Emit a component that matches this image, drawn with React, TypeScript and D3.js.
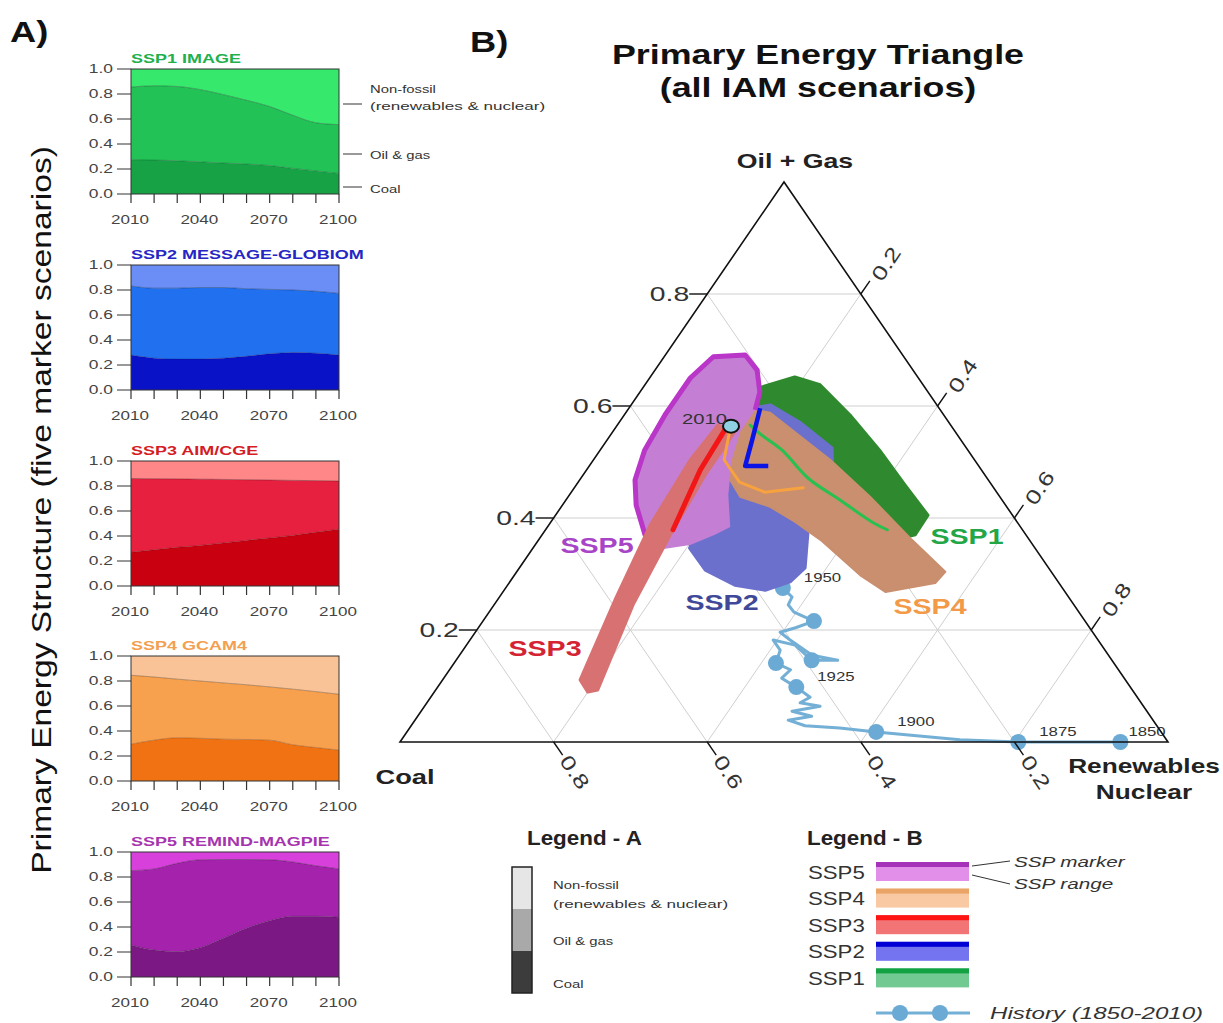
import React from 'react';
import * as d3 from 'd3';

// ---------- Panel A data ----------
const years = [2010, 2020, 2030, 2040, 2050, 2060, 2070, 2080, 2090, 2100];
const yTicksA = [0, 0.2, 0.4, 0.6, 0.8, 1.0];
const yearLabels = [2010, 2040, 2070, 2100];

const ssp1Coal = [0.275, 0.272, 0.266, 0.258, 0.248, 0.24, 0.228, 0.205, 0.185, 0.165];
const ssp1Fossil = [0.855, 0.866, 0.86, 0.835, 0.795, 0.75, 0.7, 0.63, 0.57, 0.555];
const ssp2Coal = [0.28, 0.255, 0.248, 0.248, 0.255, 0.27, 0.29, 0.3, 0.295, 0.28];
const ssp2Fossil = [0.832, 0.815, 0.815, 0.82, 0.82, 0.81, 0.805, 0.8, 0.79, 0.773];
const ssp3Coal = [0.27, 0.29, 0.31, 0.325, 0.345, 0.365, 0.385, 0.405, 0.43, 0.455];
const ssp3Fossil = [0.86, 0.858, 0.857, 0.855, 0.853, 0.85, 0.848, 0.845, 0.843, 0.84];
const ssp4Coal = [0.295, 0.327, 0.346, 0.342, 0.335, 0.332, 0.327, 0.29, 0.268, 0.247];
const ssp4Fossil = [0.846, 0.832, 0.815, 0.8, 0.785, 0.77, 0.753, 0.735, 0.715, 0.694];
const ssp5Coal = [0.257, 0.216, 0.203, 0.235, 0.31, 0.39, 0.45, 0.486, 0.486, 0.478];
const ssp5Fossil = [0.851, 0.865, 0.91, 0.938, 0.94, 0.94, 0.938, 0.92, 0.89, 0.865];

const panelTitles = ['SSP1 IMAGE', 'SSP2 MESSAGE-GLOBIOM', 'SSP3 AIM/CGE', 'SSP4 GCAM4', 'SSP5 REMIND-MAGPIE'];
const panelCoal = [ssp1Coal, ssp2Coal, ssp3Coal, ssp4Coal, ssp5Coal];
const panelFossil = [ssp1Fossil, ssp2Fossil, ssp3Fossil, ssp4Fossil, ssp5Fossil];
const panelTitleColors = ['#22b04c', '#2626c4', '#d41c24', '#f2a050', '#a634ae'];
// [non-fossil, oil & gas, coal]
const panelColors = [
  ['#36e86c', '#22c257', '#17a246'],
  ['#6a8ef5', '#2070f0', '#0a12c8'],
  ['#ff8787', '#e8203f', '#c80010'],
  ['#f9c397', '#f7a04e', '#f07212'],
  ['#d840dc', '#a422ac', '#7c1884'],
];

// ---------- Panel B data: [oil+gas share, renewables/nuclear share] ----------
const ternTicks = [0.2, 0.4, 0.6, 0.8];

const ssp1Range: [number, number][] = [
  [0.632, 0.15], [0.652, 0.188], [0.638, 0.228], [0.584, 0.294], [0.521, 0.364], [0.459, 0.428],
  [0.405, 0.485], [0.37, 0.486], [0.361, 0.464], [0.396, 0.414], [0.464, 0.328], [0.536, 0.24], [0.579, 0.179],
];
const ssp2Range: [number, number][] = [
  [0.593, 0.153], [0.602, 0.181], [0.571, 0.235], [0.525, 0.3], [0.5, 0.313], [0.471, 0.301],
  [0.379, 0.342], [0.311, 0.372], [0.286, 0.365], [0.271, 0.34], [0.28, 0.296], [0.307, 0.244],
  [0.346, 0.204], [0.396, 0.192], [0.436, 0.201], [0.489, 0.188], [0.539, 0.17],
];
const ssp4Range: [number, number][] = [
  [0.557, 0.147], [0.596, 0.151], [0.588, 0.188], [0.504, 0.308], [0.438, 0.393], [0.361, 0.486],
  [0.304, 0.558], [0.284, 0.555], [0.268, 0.498], [0.298, 0.45], [0.361, 0.367], [0.393, 0.318],
  [0.42, 0.272], [0.438, 0.224], [0.486, 0.179], [0.525, 0.157],
];
const ssp5Range: [number, number][] = [
  [0.688, 0.064], [0.691, 0.104], [0.664, 0.133], [0.625, 0.156], [0.593, 0.166], [0.554, 0.166],
  [0.504, 0.18], [0.441, 0.207], [0.384, 0.238], [0.37, 0.225], [0.352, 0.202], [0.343, 0.163],
  [0.37, 0.134], [0.423, 0.096], [0.468, 0.072], [0.521, 0.058], [0.584, 0.053], [0.65, 0.053],
];
const ssp5Outline: [number, number][] = [
  [0.343, 0.163], [0.37, 0.134], [0.423, 0.096], [0.468, 0.072], [0.521, 0.058], [0.584, 0.053],
  [0.65, 0.053], [0.688, 0.064], [0.691, 0.104], [0.664, 0.133], [0.625, 0.156], [0.593, 0.166],
];
const ssp3Range: [number, number][] = [
  [0.111, 0.179], [0.254, 0.153], [0.388, 0.132], [0.504, 0.126], [0.566, 0.131], [0.554, 0.159],
  [0.477, 0.159], [0.37, 0.167], [0.245, 0.181], [0.093, 0.211], [0.089, 0.2],
];

const ssp1Marker: [number, number][] = [
  [0.566, 0.173], [0.548, 0.197], [0.521, 0.237], [0.471, 0.296], [0.432, 0.357], [0.393, 0.418], [0.379, 0.445],
];
const ssp2Marker: [number, number][] = [[0.596, 0.171], [0.539, 0.189], [0.493, 0.203], [0.493, 0.233]];
const ssp3Marker: [number, number][] = [[0.561, 0.144], [0.486, 0.148], [0.379, 0.166]];
const ssp4Marker: [number, number][] = [[0.557, 0.151], [0.504, 0.17], [0.464, 0.21], [0.446, 0.252], [0.454, 0.298]];
const point2010: [number, number] = [0.564, 0.149];

const historyPath: [number, number][] = [
  [0.0, 0.938], [0.0, 0.805], [0.004, 0.727], [0.018, 0.611], [0.025, 0.56], [0.029, 0.513],
  [0.039, 0.486], [0.046, 0.513], [0.055, 0.483], [0.064, 0.515], [0.07, 0.486], [0.08, 0.494],
  [0.098, 0.467], [0.114, 0.44], [0.129, 0.444], [0.141, 0.419], [0.164, 0.413], [0.182, 0.395],
  [0.173, 0.428], [0.146, 0.463], [0.146, 0.497], [0.155, 0.459], [0.182, 0.417], [0.196, 0.397],
  [0.204, 0.413], [0.216, 0.431], [0.232, 0.397], [0.245, 0.383], [0.259, 0.381], [0.275, 0.361],
];
const historyDotIdx = [0, 1, 3, 12, 15, 19, 25, 29];
const historyYears = ['1850', '1875', '1900', '1925', '1950'];
const historyYearIdx = [0, 1, 3, 12, 29];

const legendBNames = ['SSP5', 'SSP4', 'SSP3', 'SSP2', 'SSP1'];
const legendBMarker = ['#a532b8', '#e9a466', '#ff1414', '#0000d4', '#12a244'];
const legendBRange = ['#e28fea', '#f8c9a2', '#f27474', '#7474f0', '#72c992'];

const FONT = 'Liberation Sans, Arial, Helvetica, sans-serif';

// Horizontally stretched text (the reference typeface is wide)
function ST(props: any) {
  const { x, y, sx = 1, rotate = 0, anchor = 'start', children, ...rest } = props;
  return (
    <text transform={`translate(${x},${y}) rotate(${rotate}) scale(${sx},1)`} textAnchor={anchor} {...rest}>
      {children}
    </text>
  );
}

function Panel({ i, top }: { i: number; top: number }) {
  const x = d3.scaleLinear().domain([2010, 2100]).range([131, 339]);
  const y = d3.scaleLinear().domain([0, 1]).range([top + 125, top]);
  const coal = panelCoal[i];
  const fossil = panelFossil[i];
  const cols = panelColors[i];
  const idx = years.map((_, k) => k);
  const coalArea = d3.area<number>().curve(d3.curveMonotoneX).x((k) => x(years[k])).y0(() => y(0)).y1((k) => y(coal[k]))(idx) || '';
  const oilArea = d3.area<number>().curve(d3.curveMonotoneX).x((k) => x(years[k])).y0((k) => y(coal[k])).y1((k) => y(fossil[k]))(idx) || '';
  const nonArea = d3.area<number>().curve(d3.curveMonotoneX).x((k) => x(years[k])).y0((k) => y(fossil[k])).y1(() => y(1))(idx) || '';
  const lineF = d3.line<number>().curve(d3.curveMonotoneX).x((k) => x(years[k])).y((k) => y(fossil[k]))(idx) || '';
  const lineC = d3.line<number>().curve(d3.curveMonotoneX).x((k) => x(years[k])).y((k) => y(coal[k]))(idx) || '';
  return (
    <g fontFamily={FONT}>
      <ST x={131} y={top - 6} sx={1.5} fontSize={12} fontWeight="bold" fill={panelTitleColors[i]}>{panelTitles[i]}</ST>
      <path d={nonArea} fill={cols[0]} />
      <path d={oilArea} fill={cols[1]} />
      <path d={coalArea} fill={cols[2]} />
      <path d={lineF} fill="none" stroke="rgba(0,0,0,0.35)" strokeWidth={0.8} />
      <path d={lineC} fill="none" stroke="rgba(0,0,0,0.25)" strokeWidth={0.8} />
      <rect x={131} y={top} width={208} height={125} fill="none" stroke="#333" strokeWidth={1} />
      {yTicksA.map((t) => (
        <g key={t}>
          <line x1={117} x2={131} y1={y(t)} y2={y(t)} stroke="#333" strokeWidth={1} />
          <ST x={113} y={y(t)} sx={1.45} anchor="end" dy="0.35em" fontSize={12} fill="#444">{t.toFixed(1)}</ST>
        </g>
      ))}
      {years.map((yr) => (
        <line key={yr} x1={x(yr)} x2={x(yr)} y1={top + 125} y2={top + 134} stroke="#333" strokeWidth={1.2} />
      ))}
      {yearLabels.map((yr) => (
        <ST key={yr} x={x(yr) - 1} y={top + 155} sx={1.42} anchor="middle" fontSize={12} fill="#444">{yr}</ST>
      ))}
    </g>
  );
}

export default function App() {
  const tx = d3.scaleLinear().domain([0, 1]).range([400, 1168]);
  const ty = d3.scaleLinear().domain([0, 1]).range([742, 182]);
  const P = (d: [number, number]): [number, number] => [tx(d[1] + d[0] / 2), ty(d[0])];
  const lineT = d3.line<[number, number]>().x((d) => P(d)[0]).y((d) => P(d)[1]);
  const closedT = d3.line<[number, number]>().x((d) => P(d)[0]).y((d) => P(d)[1]).curve(d3.curveLinearClosed);
  const smoothT = d3.line<[number, number]>().x((d) => P(d)[0]).y((d) => P(d)[1]).curve(d3.curveCatmullRom.alpha(0.5));

  const tops = [69, 265, 461, 656, 852];

  const triPath = closedT([[0, 0], [1, 0], [0, 1]]) || '';
  const up = [0.566, -0.825];
  const down = [0.566, 0.825];

  return (
    <svg width={1223} height={1023} style={{ position: 'absolute', left: 0, top: 0, background: '#fff' }} fontFamily={FONT}>
      <rect width={1223} height={1023} fill="#fff" />
      {/* Panel labels */}
      <ST x={10} y={42} sx={1.25} fontSize={29} fontWeight="bold" fill="#111">A)</ST>
      <ST x={470} y={52} sx={1.25} fontSize={29} fontWeight="bold" fill="#111">B)</ST>
      <ST x={51} y={510} rotate={-90} sx={1.2} anchor="middle" fontSize={28} fill="#111">
        Primary Energy Structure (five marker scenarios)
      </ST>

      {tops.map((t, i) => (
        <Panel key={i} i={i} top={t} />
      ))}

      {/* Panel A SSP1 annotations */}
      <g fontSize={11} fill="#333">
        <line x1={343} x2={362} y1={104} y2={104} stroke="#333" />
        <line x1={343} x2={362} y1={154} y2={154} stroke="#333" />
        <line x1={343} x2={362} y1={187} y2={187} stroke="#333" />
        <ST x={370} y={93} sx={1.35}>Non-fossil</ST>
        <ST x={370} y={110} sx={1.55}>(renewables &amp; nuclear)</ST>
        <ST x={370} y={159} sx={1.35}>Oil &amp; gas</ST>
        <ST x={370} y={193} sx={1.35}>Coal</ST>
      </g>

      {/* Title B */}
      <ST x={818} y={64} sx={1.28} anchor="middle" fontSize={28} fontWeight="bold" fill="#111">Primary Energy Triangle</ST>
      <ST x={818} y={97} sx={1.28} anchor="middle" fontSize={28} fontWeight="bold" fill="#111">(all IAM scenarios)</ST>

      {/* Grid */}
      <g stroke="#cfcfcf" strokeWidth={1}>
        {ternTicks.map((v) => (
          <g key={v}>
            <path d={lineT([[v, 0], [v, 1 - v]]) || ''} />
            <path d={lineT([[0, v], [1 - v, v]]) || ''} />
            <path d={lineT([[0, 1 - v], [1 - v, 0]]) || ''} />
          </g>
        ))}
      </g>

      {/* History (under ranges) */}
      <path d={lineT(historyPath) || ''} fill="none" stroke="#74afd6" strokeWidth={3} strokeLinejoin="round" />
      {historyDotIdx.map((k) => {
        const [cx, cy] = P(historyPath[k]);
        return <circle key={k} cx={cx} cy={cy} r={8} fill="#6aaad4" />;
      })}

      {/* Ranges */}
      <path d={closedT(ssp1Range) || ''} fill="#2f8a2f" stroke="#2f8a2f" strokeWidth={3} strokeLinejoin="round" />
      <path d={closedT(ssp2Range) || ''} fill="#6c70cd" stroke="#6c70cd" strokeWidth={3} strokeLinejoin="round" />
      <path d={closedT(ssp4Range) || ''} fill="#c98f6e" stroke="#c98f6e" strokeWidth={2} strokeLinejoin="round" />
      <path d={closedT(ssp5Range) || ''} fill="#c47fd4" />
      <path d={lineT(ssp5Outline) || ''} fill="none" stroke="#b936c8" strokeWidth={5} strokeLinejoin="round" />
      <path d={closedT(ssp3Range) || ''} fill="#d87272" stroke="#d87272" strokeWidth={3} strokeLinejoin="round" />

      {/* Markers */}
      <path d={smoothT(ssp1Marker) || ''} fill="none" stroke="#28c04e" strokeWidth={3} strokeLinecap="round" />
      <path d={lineT(ssp4Marker) || ''} fill="none" stroke="#f7a23e" strokeWidth={3} strokeLinecap="round" strokeLinejoin="round" />
      <path d={lineT(ssp3Marker) || ''} fill="none" stroke="#f21616" strokeWidth={5} strokeLinecap="round" />
      <path d={lineT(ssp2Marker) || ''} fill="none" stroke="#0a14e6" strokeWidth={4.5} strokeLinejoin="round" />

      {/* 2010 point */}
      <ellipse cx={P(point2010)[0]} cy={P(point2010)[1]} rx={8} ry={6.5} fill="#8fd0e2" stroke="#111" strokeWidth={2} />
      <ST x={P(point2010)[0] - 4} y={P(point2010)[1] - 2} sx={1.35} anchor="end" fontSize={15} fill="#333">2010</ST>

      {/* History labels */}
      {historyYears.map((yr, j) => {
        const [hx, hy] = P(historyPath[historyYearIdx[j]]);
        const dx = j === 0 ? 8 : 21;
        return (
          <ST key={yr} x={hx + dx} y={hy - 10} sx={1.4} dy="0.35em" fontSize={12} fill="#333">{yr}</ST>
        );
      })}

      {/* Triangle outline */}
      <path d={triPath} fill="none" stroke="#111" strokeWidth={1.6} />

      {/* Ticks: oil+gas (left edge) */}
      {ternTicks.map((v) => {
        const [px, py] = P([v, 0]);
        return (
          <g key={'l' + v}>
            <line x1={px} x2={px - 18} y1={py} y2={py} stroke="#111" strokeWidth={1.4} />
            <ST x={px - 18} y={py} sx={1.35} anchor="end" dy="0.35em" fontSize={21} fill="#333">{v.toFixed(1)}</ST>
          </g>
        );
      })}
      {/* Ticks: coal (bottom edge) */}
      {ternTicks.map((v) => {
        const [px, py] = P([0, 1 - v]);
        const ex = px + down[0] * 16;
        const ey = py + down[1] * 16;
        return (
          <g key={'b' + v}>
            <line x1={px} x2={ex} y1={py} y2={ey} stroke="#111" strokeWidth={1.4} />
            <ST x={ex + 2} y={ey + 2} rotate={56} sx={1.3} dy="0.35em" fontSize={20} fill="#333">{v.toFixed(1)}</ST>
          </g>
        );
      })}
      {/* Ticks: renewables (right edge) */}
      {ternTicks.map((v) => {
        const [px, py] = P([1 - v, v]);
        const ex = px + up[0] * 16;
        const ey = py + up[1] * 16;
        return (
          <g key={'r' + v}>
            <line x1={px} x2={ex} y1={py} y2={ey} stroke="#111" strokeWidth={1.4} />
            <ST x={ex + 6} y={ey - 2} rotate={-56} sx={1.3} dy="0.35em" fontSize={20} fill="#333">{v.toFixed(1)}</ST>
          </g>
        );
      })}

      {/* Vertex labels */}
      <g fontSize={21} fontWeight="bold" fill="#222">
        <ST x={795} y={168} sx={1.27} anchor="middle">Oil + Gas</ST>
        <ST x={405} y={784} sx={1.3} anchor="middle">Coal</ST>
        <ST x={1144} y={773} sx={1.25} anchor="middle">Renewables</ST>
        <ST x={1144} y={799} sx={1.25} anchor="middle">Nuclear</ST>
      </g>

      {/* SSP labels */}
      <g fontSize={22} fontWeight="bold">
        <ST x={597} y={553} sx={1.3} anchor="middle" fill="#a844c6">SSP5</ST>
        <ST x={545} y={656} sx={1.3} anchor="middle" fill="#d42434">SSP3</ST>
        <ST x={722} y={610} sx={1.3} anchor="middle" fill="#404898">SSP2</ST>
        <ST x={967} y={544} sx={1.3} anchor="middle" fill="#22a646">SSP1</ST>
        <ST x={930} y={614} sx={1.3} anchor="middle" fill="#f29a48">SSP4</ST>
      </g>

      {/* Legend A */}
      <g>
        <ST x={527} y={845} sx={1.12} fontSize={20} fontWeight="bold" fill="#222">Legend - A</ST>
        <rect x={512} y={867} width={20} height={42} fill="#e6e6e6" />
        <rect x={512} y={909} width={20} height={42} fill="#a9a9a9" />
        <rect x={512} y={951} width={20} height={42} fill="#3c3c3c" />
        <rect x={512} y={867} width={20} height={126} fill="none" stroke="#222" strokeWidth={1.5} />
        <g fontSize={11} fill="#333">
          <ST x={553} y={889} sx={1.35}>Non-fossil</ST>
          <ST x={553} y={908} sx={1.55}>(renewables &amp; nuclear)</ST>
          <ST x={553} y={945} sx={1.35}>Oil &amp; gas</ST>
          <ST x={553} y={988} sx={1.35}>Coal</ST>
        </g>
      </g>

      {/* Legend B */}
      <g>
        <ST x={807} y={845} sx={1.12} fontSize={20} fontWeight="bold" fill="#222">Legend - B</ST>
        {legendBNames.map((n, k) => {
          const yy = 862 + k * 26.6;
          return (
            <g key={n}>
              <ST x={808} y={yy + 10} sx={1.17} dy="0.35em" fontSize={19} fill="#333">{n}</ST>
              <rect x={876} y={yy} width={93} height={19} fill={legendBRange[k]} />
              <rect x={876} y={yy} width={93} height={5} fill={legendBMarker[k]} />
            </g>
          );
        })}
        <line x1={972} x2={1010} y1={866} y2={861} stroke="#333" strokeWidth={1} />
        <line x1={972} x2={1010} y1={875} y2={884} stroke="#333" strokeWidth={1} />
        <ST x={1014} y={867} sx={1.38} fontSize={15} fontStyle="italic" fill="#333">SSP marker</ST>
        <ST x={1014} y={889} sx={1.38} fontSize={15} fontStyle="italic" fill="#333">SSP range</ST>
        <line x1={876} x2={970} y1={1013} y2={1013} stroke="#74afd6" strokeWidth={3} />
        <circle cx={900} cy={1013} r={8} fill="#6aaad4" />
        <circle cx={940} cy={1013} r={8} fill="#6aaad4" />
        <ST x={990} y={1013} sx={1.42} dy="0.35em" fontSize={17} fontStyle="italic" fill="#333">History (1850-2010)</ST>
      </g>
    </svg>
  );
}
